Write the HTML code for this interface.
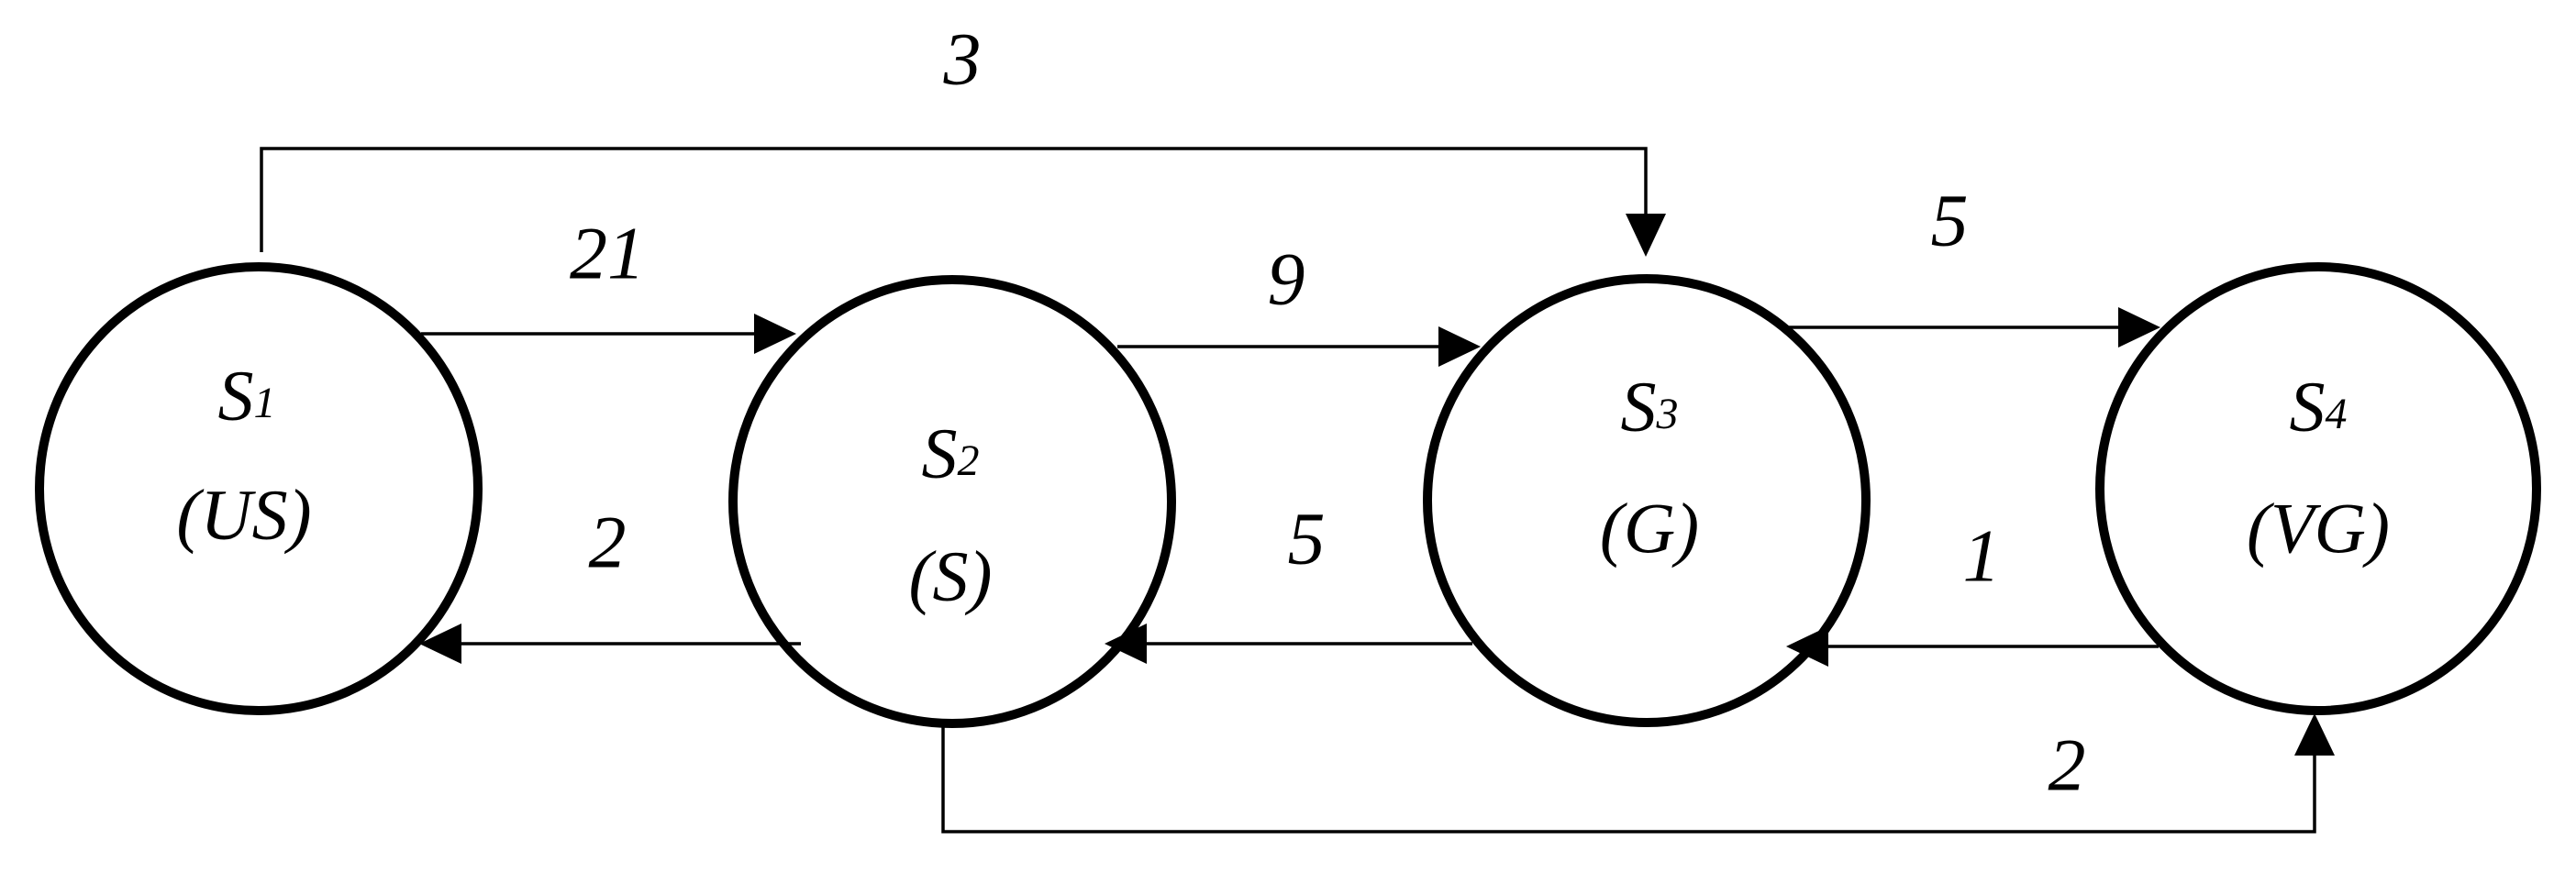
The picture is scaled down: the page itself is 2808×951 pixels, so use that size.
<!DOCTYPE html>
<html><head><meta charset="utf-8"><style>html,body{margin:0;padding:0;background:#fff}svg{display:block}</style></head>
<body>
<svg width="2808" height="951" viewBox="0 0 2808 951" xmlns="http://www.w3.org/2000/svg" font-family="'Liberation Serif', serif" font-style="italic">
<rect width="2808" height="951" fill="#fff"/>
<g fill="none" stroke="#000" stroke-width="10">
<ellipse cx="282" cy="533" rx="239" ry="242"/>
<ellipse cx="1038" cy="547" rx="239" ry="242"/>
<ellipse cx="1795" cy="546" rx="239" ry="242"/>
<ellipse cx="2527" cy="533" rx="238" ry="242"/>
</g>
<g fill="none" stroke="#000" stroke-width="3.5">
<polyline points="285,275 285,162 1794,162 1794,240"/>
<line x1="459" y1="364" x2="830" y2="364"/>
<line x1="1218" y1="378" x2="1576" y2="378"/>
<line x1="1950" y1="357" x2="2318" y2="357"/>
<line x1="873" y1="702" x2="495" y2="702"/>
<line x1="1605" y1="702" x2="1242" y2="702"/>
<line x1="2353" y1="705" x2="1985" y2="705"/>
<polyline points="1028,791 1028,907 2523,907 2523,820"/>
</g>
<g fill="#000">
<polygon points="1794,280 1772,233 1816,233"/>
<polygon points="868,364 822,342 822,386"/>
<polygon points="1614,378 1568,356 1568,400"/>
<polygon points="2355,357 2309,335 2309,379"/>
<polygon points="457,702 503,680 503,724"/>
<polygon points="1204,702 1250,680 1250,724"/>
<polygon points="1947,705 1993,683 1993,727"/>
<polygon points="2523,778 2501,824 2545,824"/>
</g>
<g font-size="82" text-anchor="middle" dominant-baseline="central" fill="#000">
<text x="1049" y="64">3</text>
<text x="662" y="276">21</text>
<text x="1402" y="304">9</text>
<text x="2125" y="240">5</text>
<text x="662" y="591">2</text>
<text x="1424" y="587">5</text>
<text x="2160" y="606">1</text>
<text x="2253" y="834">2</text>
</g>
<g font-size="78" text-anchor="middle" dominant-baseline="central" fill="#000">
<text x="269" y="431">S<tspan font-size="48" dy="8">1</tspan></text>
<text x="266" y="561">(US)</text>
<text x="1036" y="494">S<tspan font-size="48" dy="8">2</tspan></text>
<text x="1036" y="628">(S)</text>
<text x="1798" y="443">S<tspan font-size="48" dy="8">3</tspan></text>
<text x="1798" y="576">(G)</text>
<text x="2527" y="443">S<tspan font-size="48" dy="8">4</tspan></text>
<text x="2527" y="576">(VG)</text>
</g>
</svg>
</body></html>
